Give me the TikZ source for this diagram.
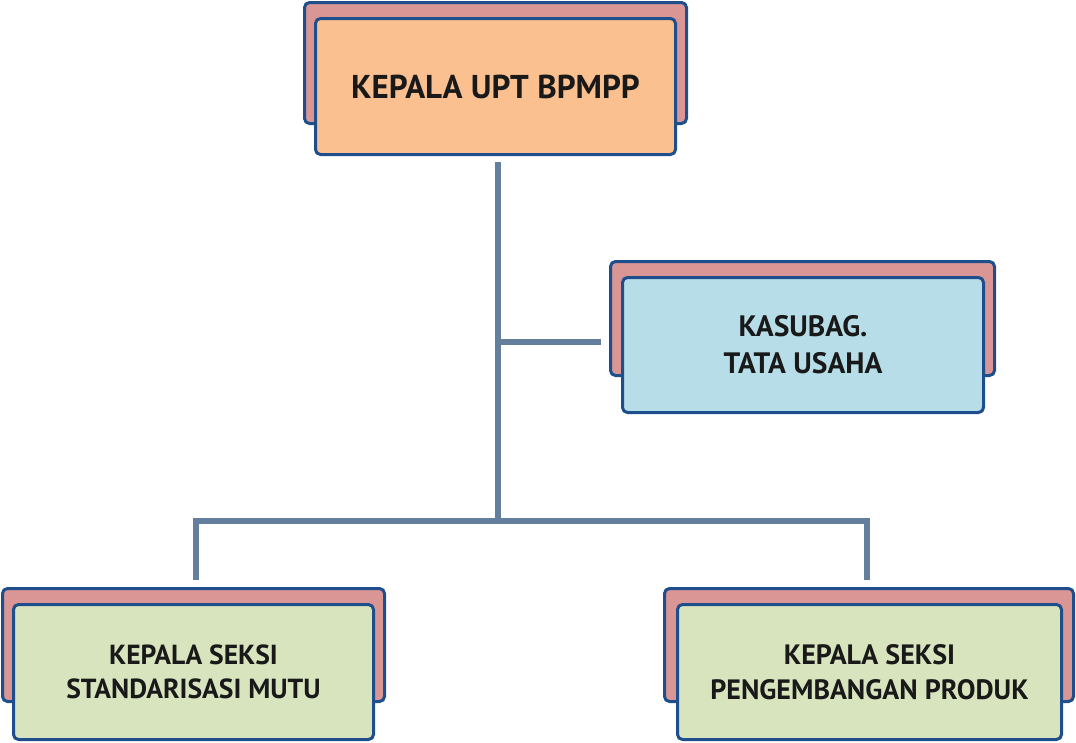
\documentclass[tikz,border=0pt]{standalone}
\usepackage{fontspec}
\setmainfont{PT Sans}
\definecolor{backpink}{HTML}{D99694}
\definecolor{kepalaorange}{HTML}{FAC090}
\definecolor{tublue}{HTML}{B7DEE8}
\definecolor{seksigreen}{HTML}{D7E4BD}
\definecolor{boxline}{HTML}{1F4E8C}
\definecolor{linkgray}{HTML}{647F9E}
\tikzset{
  backbox/.style={draw=boxline, line width=3pt, fill=backpink, rounded corners=5pt, inner sep=0pt},
  frontbox/.style={draw=boxline, line width=3pt, rounded corners=5pt, inner sep=0pt, align=center, text=black!90, font=\bfseries},
  link/.style={draw=linkgray, line width=6pt}
}

\begin{document}
\begin{tikzpicture}[x=1pt, y=-1pt]
\useasboundingbox (0,0) rectangle (1076,742);

% kepala
\node[backbox, minimum width=382, minimum height=121] (kepalaB) at (495.5,63) {};
\node[frontbox, fill=kepalaorange, minimum width=360, minimum height=136, font=\bfseries\fontsize{33}{38}\selectfont] (kepala) at (495.5,86.5) {KEPALA UPT BPMPP};

% tata usaha
\node[backbox, minimum width=384, minimum height=114] (tuB) at (802.5,318.5) {};
\node[frontbox, fill=tublue, minimum width=361, minimum height=135, font=\bfseries\fontsize{29.5}{37}\selectfont] (tu) at (803,345) {KASUBAG.\\TATA USAHA};

% seksi
\node[backbox, minimum width=382, minimum height=113] (smB) at (193.5,645) {};
\node[frontbox, fill=seksigreen, minimum width=360, minimum height=135, font=\bfseries\fontsize{27.6}{34.5}\selectfont] (sm) at (193.5,672) {KEPALA SEKSI\\STANDARISASI MUTU};

\node[backbox, minimum width=409, minimum height=113] (ppB) at (869,645) {};
\node[frontbox, fill=seksigreen, minimum width=384, minimum height=135, font=\bfseries\fontsize{28}{34.5}\selectfont] (pp) at (869.5,672) {KEPALA SEKSI\\PENGEMBANGAN PRODUK};

% garis
\coordinate (hub) at (498,521);
\coordinate (tuJoin) at (498,342);
\draw[link, shorten <=6pt] (hub |- kepala.south) -- (hub);
\draw[link, shorten >=8pt] (tuJoin) -- (tuJoin -| tuB.west);
\draw[link] ([xshift=2.5pt, yshift=7.5pt]smB.north) |- (hub) -| ([xshift=-2pt, yshift=7.5pt]ppB.north);

\end{tikzpicture}
\end{document}
